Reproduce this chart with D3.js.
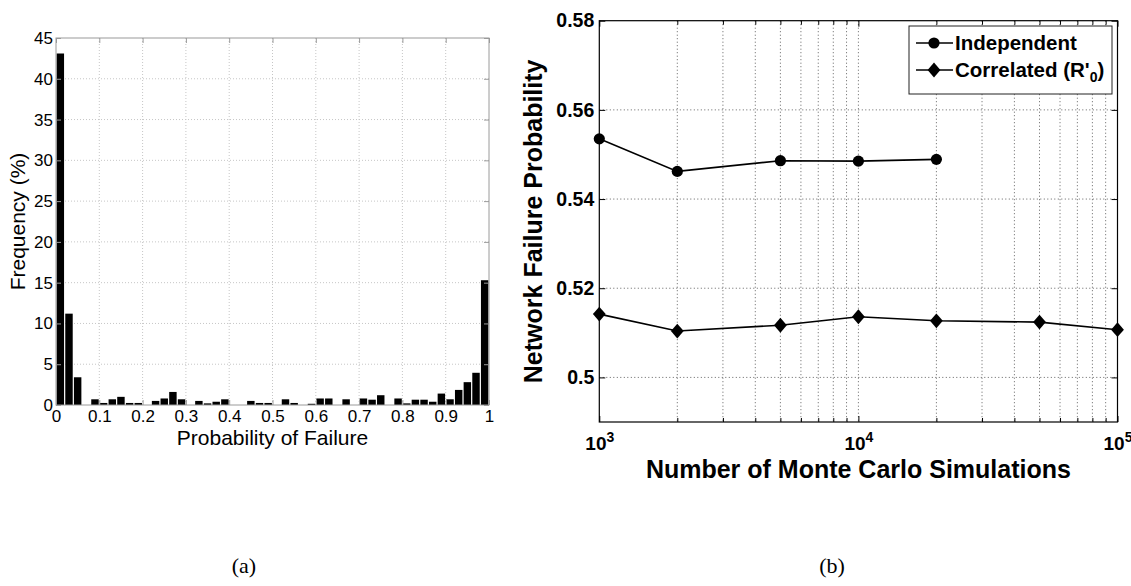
<!DOCTYPE html>
<html>
<head>
<meta charset="utf-8">
<script src="https://cdn.jsdelivr.net/npm/d3@7"></script>
<style>
  body { margin: 0; background: #fff; }
  svg { display: block; }
</style>
</head>
<body>
<svg id="fig" width="1131" height="586"></svg>
<script>
// ---------- (a) histogram of failure probabilities ----------
const binWidth = 0.02;
const binCount = 50;
const binStarts = d3.range(binCount).map(i => i * binWidth);
const frequency = [
  43.1, 11.2, 3.4, 0, 0.7, 0.25, 0.7, 1.0, 0.25, 0.25,
  0, 0.5, 0.8, 1.6, 0.7, 0, 0.5, 0.2, 0.4, 0.7,
  0, 0, 0.5, 0.25, 0.25, 0, 0.7, 0.25, 0, 0.15,
  0.8, 0.8, 0, 0.7, 0, 0.8, 0.65, 1.2, 0, 0.8,
  0.2, 0.65, 0.65, 0.4, 1.4, 0.7, 1.85, 2.8, 3.95, 15.3
];
const histXTicks = [0, 0.1, 0.2, 0.3, 0.4, 0.5, 0.6, 0.7, 0.8, 0.9, 1];
const histYTicks = [0, 5, 10, 15, 20, 25, 30, 35, 40, 45];

// ---------- (b) convergence vs number of simulations ----------
const simulations = [1000, 2000, 5000, 10000, 20000, 50000, 100000];
const independent = [0.5535, 0.5462, 0.5486, 0.5485, 0.5489];
const correlated  = [0.5142, 0.5104, 0.5117, 0.5136, 0.5127, 0.5124, 0.5107];
const probTicks = [0.5, 0.52, 0.54, 0.56, 0.58];
const decadeTicks = [1e3, 1e4, 1e5];
const decadeExponents = ["3", "4", "5"];
const seriesNames = ["Independent", "Correlated (R'"];

const svg = d3.select("#fig");
const SANS = "'Liberation Sans', Arial, Helvetica, sans-serif";
const SERIF = "'Liberation Serif', 'Times New Roman', serif";

// ======================= panel (a) =======================
const A = { left: 56, right: 489, top: 38, bottom: 405 };
const xA = d3.scaleLinear().domain([0, 1]).range([A.left, A.right]);
const yA = d3.scaleLinear().domain([0, 45]).range([A.bottom, A.top]);
const gA = svg.append("g");
const gridA = "#c6c6c6";
const axisA = "#9a9a9a";

// grid
gA.append("g").selectAll("line")
  .data(histXTicks.slice(1, -1)).join("line")
  .attr("x1", d => xA(d)).attr("x2", d => xA(d))
  .attr("y1", A.top).attr("y2", A.bottom)
  .attr("stroke", gridA).attr("stroke-dasharray", "1,2");
gA.append("g").selectAll("line")
  .data(histYTicks.slice(1, -1)).join("line")
  .attr("x1", A.left).attr("x2", A.right)
  .attr("y1", d => yA(d)).attr("y2", d => yA(d))
  .attr("stroke", gridA).attr("stroke-dasharray", "1,2");

// bars
gA.append("g").selectAll("rect")
  .data(binStarts.map((s, i) => ({ s, v: frequency[i] })).filter(d => d.v > 0))
  .join("rect")
  .attr("x", d => xA(d.s + binWidth * 0.07))
  .attr("width", xA(binWidth * 0.86) - xA(0))
  .attr("y", d => yA(d.v))
  .attr("height", d => yA(0) - yA(d.v))
  .attr("fill", "#000");

function styleAxis(g, color, font, size, weight) {
  g.select(".domain").remove();
  g.selectAll(".tick line").attr("stroke", color);
  g.selectAll(".tick text")
    .attr("fill", "#000")
    .style("font-family", font)
    .style("font-size", size + "px")
    .style("font-weight", weight);
}

gA.append("g").attr("transform", `translate(0,${A.bottom})`)
  .call(d3.axisBottom(xA).tickValues(histXTicks).tickFormat(d3.format("")).tickSize(-5).tickPadding(5))
  .call(g => styleAxis(g, axisA, SANS, 17, "normal"));
gA.append("g").attr("transform", `translate(0,${A.top})`)
  .call(d3.axisTop(xA).tickValues(histXTicks).tickFormat("").tickSize(-5))
  .call(g => styleAxis(g, axisA, SANS, 17, "normal"));
gA.append("g").attr("transform", `translate(${A.left},0)`)
  .call(d3.axisLeft(yA).tickValues(histYTicks).tickFormat(d3.format("")).tickSize(-5).tickPadding(3))
  .call(g => styleAxis(g, axisA, SANS, 17, "normal"));
gA.append("g").attr("transform", `translate(${A.right},0)`)
  .call(d3.axisRight(yA).tickValues(histYTicks).tickFormat("").tickSize(-5))
  .call(g => styleAxis(g, axisA, SANS, 17, "normal"));

gA.append("rect")
  .attr("x", A.left).attr("y", A.top)
  .attr("width", A.right - A.left).attr("height", A.bottom - A.top)
  .attr("fill", "none").attr("stroke", axisA);

gA.append("text")
  .attr("x", (A.left + A.right) / 2).attr("y", 445)
  .attr("text-anchor", "middle")
  .style("font-family", SANS).style("font-size", "21px")
  .text("Probability of Failure");
gA.append("text")
  .attr("transform", `translate(25,${(A.top + A.bottom) / 2}) rotate(-90)`)
  .attr("text-anchor", "middle")
  .style("font-family", SANS).style("font-size", "21px")
  .text("Frequency (%)");

// ======================= panel (b) =======================
const B = { left: 599.3, right: 1117.5, top: 20.7, bottom: 422 };
const xB = d3.scaleLog().domain([1e3, 1e5]).range([B.left, B.right]);
const yB = d3.scaleLinear().domain([0.49, 0.58]).range([B.bottom, B.top]);
const gB = svg.append("g");
const gridB = "#505050";

const logTicks = xB.ticks();
const innerLogTicks = logTicks.filter(d => d > 1e3 && d < 1e5);
const minorLogTicks = logTicks.filter(d => !decadeTicks.includes(d));

gB.append("g").selectAll("line")
  .data(innerLogTicks).join("line")
  .attr("x1", d => xB(d)).attr("x2", d => xB(d))
  .attr("y1", B.top).attr("y2", B.bottom)
  .attr("stroke", gridB).attr("stroke-width", 0.9).attr("stroke-dasharray", "1,2.5");
gB.append("g").selectAll("line")
  .data(probTicks.slice(0, -1)).join("line")
  .attr("x1", B.left).attr("x2", B.right)
  .attr("y1", d => yB(d)).attr("y2", d => yB(d))
  .attr("stroke", gridB).attr("stroke-width", 0.9).attr("stroke-dasharray", "1,2.5");

// axes: major and minor ticks point inward
gB.append("g").attr("transform", `translate(0,${B.bottom})`)
  .call(d3.axisBottom(xB).tickValues(decadeTicks).tickSize(-6).tickPadding(15))
  .call(g => styleAxis(g, "#000", SANS, 19, "bold"))
  .call(g => g.selectAll(".tick text")
    .text("10")
    .append("tspan")
      .attr("dy", "-0.6em")
      .style("font-size", "14px")
      .text((d, i) => decadeExponents[i]));
gB.append("g").attr("transform", `translate(0,${B.bottom})`)
  .call(d3.axisBottom(xB).tickValues(minorLogTicks).tickFormat("").tickSize(-4))
  .call(g => styleAxis(g, "#000", SANS, 19, "bold"));
gB.append("g").attr("transform", `translate(0,${B.top})`)
  .call(d3.axisTop(xB).tickValues(decadeTicks).tickFormat("").tickSize(-6))
  .call(g => styleAxis(g, "#000", SANS, 19, "bold"));
gB.append("g").attr("transform", `translate(0,${B.top})`)
  .call(d3.axisTop(xB).tickValues(minorLogTicks).tickFormat("").tickSize(-4))
  .call(g => styleAxis(g, "#000", SANS, 19, "bold"));
gB.append("g").attr("transform", `translate(${B.left},0)`)
  .call(d3.axisLeft(yB).tickValues(probTicks).tickFormat(d3.format("")).tickSize(-6).tickPadding(5))
  .call(g => styleAxis(g, "#000", SANS, 19.5, "bold"));
gB.append("g").attr("transform", `translate(${B.right},0)`)
  .call(d3.axisRight(yB).tickValues(probTicks).tickFormat("").tickSize(-6))
  .call(g => styleAxis(g, "#000", SANS, 19, "bold"));

gB.append("rect")
  .attr("x", B.left).attr("y", B.top)
  .attr("width", B.right - B.left).attr("height", B.bottom - B.top)
  .attr("fill", "none").attr("stroke", "#000").attr("stroke-width", 1.2);

// series
const line = d3.line().x(d => xB(d.x)).y(d => yB(d.y));
const indepPts = independent.map((y, i) => ({ x: simulations[i], y }));
const corrPts = correlated.map((y, i) => ({ x: simulations[i], y }));

const circleSym = d3.symbol().type(d3.symbolCircle).size(Math.PI * 5.6 * 5.6);
const diamondPath = (hw, hh) => `M0,${-hh}L${hw},0L0,${hh}L${-hw},0Z`;

[[indepPts, "circle"], [corrPts, "diamond"]].forEach(([pts, kind]) => {
  gB.append("path").datum(pts)
    .attr("d", line)
    .attr("fill", "none").attr("stroke", "#000").attr("stroke-width", 1.6);
  gB.append("g").selectAll("path")
    .data(pts).join("path")
    .attr("transform", d => `translate(${xB(d.x)},${yB(d.y)})`)
    .attr("d", kind === "circle" ? circleSym() : diamondPath(6.4, 7.4))
    .attr("fill", "#000");
});

// legend
const leg = gB.append("g");
leg.append("rect")
  .attr("x", 909).attr("y", 26).attr("width", 203).attr("height", 68)
  .attr("fill", "#fff").attr("stroke", "#222").attr("stroke-width", 1);
const legRows = [43, 70];
legRows.forEach((ly, i) => {
  leg.append("line")
    .attr("x1", 916).attr("x2", 953).attr("y1", ly).attr("y2", ly)
    .attr("stroke", "#000").attr("stroke-width", 1.6);
  leg.append("path")
    .attr("transform", `translate(934,${ly})`)
    .attr("d", i === 0 ? circleSym() : diamondPath(6.4, 7.4))
    .attr("fill", "#000");
  const t = leg.append("text")
    .attr("x", 955).attr("y", ly + 7)
    .style("font-family", SANS).style("font-size", "20.5px").style("font-weight", "bold")
    .text(seriesNames[i]);
  if (i === 1) {
    t.append("tspan").attr("dy", 5).style("font-size", "14px").text("0");
    t.append("tspan").attr("dy", -5).text(")");
  }
});

// axis titles
gB.append("text")
  .attr("x", (B.left + B.right) / 2).attr("y", 478)
  .attr("text-anchor", "middle")
  .style("font-family", SANS).style("font-size", "25px").style("font-weight", "bold")
  .text("Number of Monte Carlo Simulations");
gB.append("text")
  .attr("transform", `translate(542,${(B.top + B.bottom) / 2}) rotate(-90)`)
  .attr("text-anchor", "middle")
  .style("font-family", SANS).style("font-size", "25px").style("font-weight", "bold")
  .text("Network Failure Probability");

// panel captions
[["(a)", 244], ["(b)", 832]].forEach(([label, cx]) => {
  svg.append("text")
    .attr("x", cx).attr("y", 573)
    .attr("text-anchor", "middle")
    .style("font-family", SERIF).style("font-size", "22px")
    .text(label);
});
</script>
</body>
</html>
